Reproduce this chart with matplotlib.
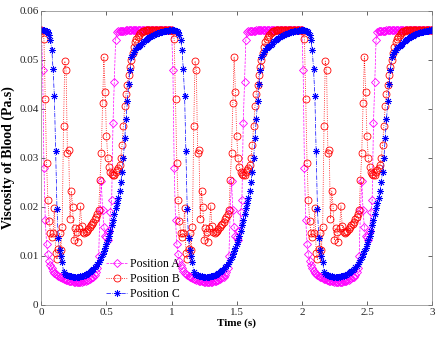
import matplotlib
matplotlib.use("Agg")
import matplotlib.pyplot as plt
import numpy as np

# ---------------- data (one 1 s cycle, sampled every 0.01 s) ----------------
t_cycle = np.round(np.arange(0, 100) * 0.01, 2)
n_cycles = 3

pos_a = [0.0560, 0.0478, 0.0279, 0.0173, 0.0125, 0.0104, 0.0090, 0.0081, 0.0075, 0.0070,
         0.0066, 0.0063, 0.0061, 0.0059, 0.0057, 0.0056, 0.0054, 0.0053, 0.0052, 0.0051,
         0.0050, 0.0049, 0.0049, 0.0048, 0.0048, 0.0047, 0.0047, 0.0047, 0.0047, 0.0047,
         0.0047, 0.0047, 0.0048, 0.0048, 0.0049, 0.0050, 0.0051, 0.0052, 0.0054, 0.0056,
         0.0058, 0.0062, 0.0067, 0.0075, 0.0100, 0.0193, 0.0253, 0.0193, 0.0159, 0.0140,
         0.0138, 0.0132, 0.0150, 0.0189, 0.0214, 0.0370, 0.0454, 0.0540, 0.0556, 0.0558,
         0.0559, 0.0559, 0.0559, 0.0559, 0.0559, 0.0560, 0.0560, 0.0560, 0.0560, 0.0560,
         0.0560, 0.0560, 0.0560, 0.0560, 0.0560, 0.0560, 0.0560, 0.0560, 0.0560, 0.0560,
         0.0560, 0.0560, 0.0560, 0.0560, 0.0560, 0.0560, 0.0560, 0.0560, 0.0560, 0.0560,
         0.0560, 0.0560, 0.0560, 0.0560, 0.0560, 0.0560, 0.0560, 0.0560, 0.0560, 0.0560]

pos_b = [0.0560, 0.0558, 0.0541, 0.0419, 0.0290, 0.0214, 0.0171, 0.0147, 0.0138, 0.0147,
         0.0197, 0.0105, 0.0093, 0.0114, 0.0147, 0.0113, 0.0159, 0.0364, 0.0497, 0.0478,
         0.0310, 0.0315, 0.0176, 0.0232, 0.0200, 0.0132, 0.0156, 0.0149, 0.0129, 0.0156,
         0.0202, 0.0161, 0.0149, 0.0146, 0.0148, 0.0151, 0.0155, 0.0158, 0.0162, 0.0166,
         0.0170, 0.0175, 0.0180, 0.0186, 0.0193, 0.0254, 0.0310, 0.0412, 0.0506, 0.0435,
         0.0344, 0.0300, 0.0281, 0.0272, 0.0266, 0.0264, 0.0265, 0.0270, 0.0276, 0.0280,
         0.0285, 0.0300, 0.0327, 0.0365, 0.0405, 0.0430, 0.0448, 0.0468, 0.0485, 0.0500,
         0.0513, 0.0525, 0.0535, 0.0542, 0.0547, 0.0551, 0.0554, 0.0556, 0.0558, 0.0559,
         0.0560, 0.0560, 0.0560, 0.0560, 0.0560, 0.0560, 0.0560, 0.0560, 0.0560, 0.0560,
         0.0560, 0.0560, 0.0560, 0.0560, 0.0560, 0.0560, 0.0560, 0.0560, 0.0560, 0.0560]

pos_c = [0.0560, 0.0560, 0.0560, 0.0559, 0.0558, 0.0556, 0.0550, 0.0540, 0.0520, 0.0480,
         0.0425, 0.0314, 0.0195, 0.0136, 0.0112, 0.0100, 0.0088, 0.0068, 0.0064, 0.0062,
         0.0061, 0.0060, 0.0059, 0.0059, 0.0058, 0.0058, 0.0058, 0.0058, 0.0058, 0.0058,
         0.0059, 0.0059, 0.0060, 0.0061, 0.0062, 0.0063, 0.0065, 0.0067, 0.0069, 0.0071,
         0.0074, 0.0077, 0.0080, 0.0084, 0.0088, 0.0092, 0.0097, 0.0103, 0.0110, 0.0117,
         0.0124, 0.0132, 0.0141, 0.0151, 0.0162, 0.0174, 0.0186, 0.0198, 0.0208, 0.0218,
         0.0232, 0.0250, 0.0272, 0.0300, 0.0340, 0.0378, 0.0415, 0.0450, 0.0478, 0.0505,
         0.0512, 0.0516, 0.0520, 0.0523, 0.0526, 0.0528, 0.0530, 0.0532, 0.0535, 0.0537,
         0.0540, 0.0542, 0.0544, 0.0546, 0.0548, 0.0549, 0.0551, 0.0552, 0.0553, 0.0554,
         0.0555, 0.0556, 0.0557, 0.0557, 0.0558, 0.0558, 0.0559, 0.0559, 0.0560, 0.0560]

labels = ["Position A", "Position B", "Position C"]
x_ticks = [0, 0.5, 1, 1.5, 2, 2.5, 3]
y_ticks = [0, 0.01, 0.02, 0.03, 0.04, 0.05, 0.06]

# repeat the cycle (the flow is periodic)
t = np.concatenate([t_cycle + k for k in range(n_cycles)] + [[float(n_cycles)]])
def full(v):
    return np.array(v * n_cycles + [v[0]])

# ---------------- plot ----------------
plt.rcParams["font.family"] = "Liberation Serif"

fig = plt.figure(figsize=(4.4, 3.4), dpi=100)
ax = fig.add_axes([0.094, 0.103, 0.888, 0.866])

ax.plot(t, full(pos_a), color="#FF00FF", linestyle="--", linewidth=0.5,
        marker="D", markersize=4.0, markerfacecolor="none", markeredgewidth=0.6, label=labels[0])
ax.plot(t, full(pos_b), color="#FF0000", linestyle=":", linewidth=0.6,
        marker="o", markersize=5.0, markerfacecolor="none", markeredgewidth=0.6, label=labels[1])
ax.plot(t, full(pos_c), color="#0000FF", linestyle="-.", linewidth=0.5,
        marker=(8, 2, 0), markersize=5.0, markeredgewidth=0.6, label=labels[2])

ax.set_xlim(0, 3)
ax.set_ylim(0, 0.06)
ax.set_xticks(x_ticks)
ax.set_xticklabels(["0", "0.5", "1", "1.5", "2", "2.5", "3"])
ax.set_yticks(y_ticks)
ax.set_yticklabels(["0", "0.01", "0.02", "0.03", "0.04", "0.05", "0.06"])
ax.tick_params(direction="in", length=3, width=0.5, labelsize=8, colors="#262626",
               top=True, right=True, pad=2)
for s in ax.spines.values():
    s.set_linewidth(0.5)
    s.set_color("#808080")

ax.set_xlabel("Time (s)", fontsize=8, fontweight="bold", labelpad=1)
ax.set_ylabel("Viscosity of Blood (Pa.s)", fontsize=10, fontweight="bold", labelpad=3)

ax.legend(loc="lower left", bbox_to_anchor=(0.145, -0.012), frameon=False, fontsize=8.5,
          handlelength=1.8, handletextpad=0.2, labelspacing=0.25, borderpad=0.2)

fig.savefig("out.png", dpi=100)
